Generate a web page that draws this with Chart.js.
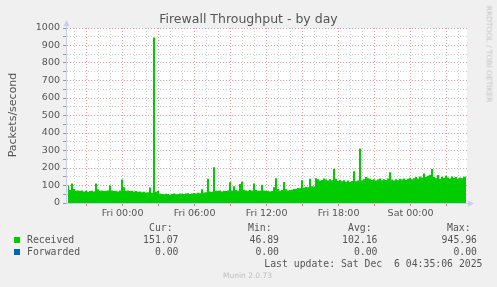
<!DOCTYPE html>
<html>
<head>
<meta charset="utf-8">
<script src="https://cdn.jsdelivr.net/npm/chart.js@4.4.1/dist/chart.umd.min.js"></script>
<style>
  body { margin: 0; background: #f0f0f0; }
  #wrap { position: relative; width: 497px; height: 287px; overflow: hidden; }
  canvas { position: absolute; left: 0; top: 0; }
  .t { position: absolute; white-space: pre; color: #555; }
  .mono { font-family: 'DejaVu Sans Mono', monospace; font-size: 9.8px; line-height: 12px; }
  .box { position: absolute; width: 6px; height: 6px; }
</style>
</head>
<body>
<div id="wrap">
  <canvas id="chart" width="497" height="287"></canvas>
  <div class="t" style="left:0;width:497px;top:11px;text-align:center;font:12.5px 'DejaVu Sans';line-height:15px;">Firewall Throughput - by day</div>
  <div class="t" style="left:11.5px;top:114.5px;font:11px 'DejaVu Sans';line-height:13px;transform:translate(-50%,-50%) rotate(-90deg);">Packets/second</div>
  <div class="t" style="left:488.5px;top:53.5px;font:7.5px 'DejaVu Sans';line-height:9px;color:#c4c4c4;transform:translate(-50%,-50%) rotate(90deg);">RRDTOOL / TOBI OETIKER</div>
  <div class="t" style="left:223px;top:271px;font:7.5px 'DejaVu Sans';line-height:10px;color:#bdbdbd;">Munin 2.0.73</div>
  <div class="box" style="left:14px;top:236.5px;background:#00cc00;"></div>
  <div class="box" style="left:14px;top:248.5px;background:#0066b3;"></div>
</div>
<script>
// time axis in hours from Fri 00:00, one sample every 10 minutes
const startHour = -4.55;
const stepHours = 1 / 6;
const gridHours = [-4,-3,-2,-1,0,1,2,3,4,5,6,7,8,9,10,11,12,13,14,15,16,17,18,19,20,21,22,23,24,25,26,27,28];
const xTickHours = [0, 6, 12, 18, 24];
const xTickLabels = ['Fri 00:00', 'Fri 06:00', 'Fri 12:00', 'Fri 18:00', 'Sat 00:00'];

const received = [
  100, 75, 112, 80, 70, 72, 68, 72, 66, 70, 64, 68, 70, 66, 112, 78, 70, 72, 68, 70,
  72, 100, 72, 68, 70, 66, 72, 135, 90, 70, 72, 68, 70, 66, 68, 64, 66, 62, 64, 60,
  62, 88, 58, 946, 64, 68, 55, 52, 50, 53, 51, 47, 52, 54, 50, 52, 55, 53, 51, 54,
  56, 52, 55, 57, 54, 58, 56, 78, 60, 62, 138, 66, 64, 205, 70, 68, 72, 66, 70, 68,
  72, 118, 72, 96, 74, 70, 108, 122, 76, 72, 70, 74, 72, 112, 74, 70, 72, 104, 72, 68,
  70, 66, 68, 90, 142, 80, 70, 74, 120, 78, 72, 74, 76, 80, 82, 86, 84, 130, 88, 92,
  90, 138, 96, 94, 142, 136, 128, 132, 140, 134, 128, 136, 130, 196, 138, 126, 132, 124, 130, 122,
  128, 120, 126, 182, 124, 128, 312, 130, 136, 148, 142, 138, 132, 136, 128, 134, 140, 130, 136, 132,
  140, 176, 134, 128, 136, 130, 138, 134, 140, 132, 138, 144, 136, 142, 148, 140, 152, 146, 168, 150,
  156, 162, 194, 148, 142, 160, 138, 150, 144, 156, 146, 140, 152, 144, 148, 138, 146, 142, 150, 151
];
const forwarded = [
  0,0,0,0,0,0,0,0,0,0,0,0,0,0,0,0,0,0,0,0, 0,0,0,0,0,0,0,0,0,0,0,0,0,0,0,0,0,0,0,0,
  0,0,0,0,0,0,0,0,0,0,0,0,0,0,0,0,0,0,0,0, 0,0,0,0,0,0,0,0,0,0,0,0,0,0,0,0,0,0,0,0,
  0,0,0,0,0,0,0,0,0,0,0,0,0,0,0,0,0,0,0,0, 0,0,0,0,0,0,0,0,0,0,0,0,0,0,0,0,0,0,0,0,
  0,0,0,0,0,0,0,0,0,0,0,0,0,0,0,0,0,0,0,0, 0,0,0,0,0,0,0,0,0,0,0,0,0,0,0,0,0,0,0,0,
  0,0,0,0,0,0,0,0,0,0,0,0,0,0,0,0,0,0,0,0, 0,0,0,0,0,0,0,0,0,0,0,0,0,0,0,0,0,0,0,0
];

const legendHead = ['Cur:', 'Min:', 'Avg:', 'Max:'];
const receivedStats = ['151.07', '46.89', '102.16', '945.96'];
const forwardedStats = ['0.00', '0.00', '0.00', '0.00'];
const lastUpdate = 'Last update: Sat Dec  6 04:35:06 2025';

const wrap = document.getElementById('wrap');
function put(text, x, y, align) {
  const d = document.createElement('div');
  d.className = 't mono';
  d.textContent = text;
  d.style.top = (y - 6) + 'px';
  if (align === 'right') d.style.right = (497 - x) + 'px';
  else d.style.left = x + 'px';
  wrap.appendChild(d);
}
const headX = [149, 248, 348, 447];
const valX = [178.5, 279, 377.5, 477];
legendHead.forEach((h, i) => put(h, headX[i], 227.5));
put('Received', 27, 239.5);
put('Forwarded', 27, 251.5);
receivedStats.forEach((v, i) => put(v, valX[i], 239.5, 'right'));
forwardedStats.forEach((v, i) => put(v, valX[i], 251.5, 'right'));
put(lastUpdate, 482.5, 263.5, 'right');

const toPoints = arr => arr.map((v, i) => ({ x: startHour + i * stepHours, y: v }));

const frame = {
  id: 'frame',
  beforeDraw(chart) {
    const { ctx, chartArea: a } = chart;
    ctx.save();
    ctx.fillStyle = '#ffffff';
    ctx.fillRect(a.left, a.top, a.right - a.left, a.bottom - a.top);
    ctx.restore();
  },
  afterDraw(chart) {
    const { ctx, chartArea: a } = chart;
    const x0 = a.left - 0.5, y0 = a.bottom + 0.5;
    ctx.save();
    ctx.strokeStyle = '#c8ccf4';
    ctx.fillStyle = '#c8ccf4';
    ctx.lineWidth = 1;
    ctx.beginPath();
    ctx.moveTo(x0, y0); ctx.lineTo(x0, a.top - 4);
    ctx.moveTo(x0, y0); ctx.lineTo(a.right + 4, y0);
    ctx.stroke();
    ctx.beginPath();
    ctx.moveTo(x0, a.top - 8); ctx.lineTo(x0 - 3, a.top - 2); ctx.lineTo(x0 + 3, a.top - 2);
    ctx.closePath(); ctx.fill();
    ctx.beginPath();
    ctx.moveTo(a.right + 7, y0); ctx.lineTo(a.right + 1, y0 - 3); ctx.lineTo(a.right + 1, y0 + 3);
    ctx.closePath(); ctx.fill();
    ctx.restore();
  }
};

const tickFont = { family: 'DejaVu Sans', size: 9.5 };

new Chart(document.getElementById('chart'), {
  type: 'line',
  data: {
    datasets: [
      {
        label: 'Received',
        data: toPoints(received),
        backgroundColor: '#00cc00',
        borderWidth: 0,
        fill: 'origin',
        pointRadius: 0,
        stepped: 'middle'
      },
      {
        label: 'Forwarded',
        data: toPoints(forwarded),
        borderColor: 'rgba(0,102,179,0.25)',
        borderWidth: 1,
        fill: false,
        pointRadius: 0
      }
    ]
  },
  options: {
    responsive: false,
    animation: false,
    devicePixelRatio: 1,
    layout: { padding: { left: 0, top: 28, right: 30, bottom: 64 } },
    plugins: { legend: { display: false }, tooltip: { enabled: false } },
    scales: {
      x: {
        type: 'linear',
        min: -4.633,
        max: 28.7,
        afterBuildTicks: s => { s.ticks = gridHours.map(v => ({ value: v })); },
        afterFit: s => { s.height = 20; },
        ticks: {
          autoSkip: false,
          maxRotation: 0,
          padding: 2,
          color: '#555',
          font: tickFont,
          callback: v => {
            const k = xTickHours.indexOf(v);
            return k < 0 ? '' : xTickLabels[k];
          }
        },
        grid: {
          color: c => (c.tick && c.tick.value % 3 === 0) ? 'rgba(225,120,120,0.75)' : '#cfcfcf',
          tickColor: c => (c.tick && c.tick.value % 3 === 0) ? 'rgba(225,120,120,0.9)' : 'rgba(0,0,0,0)',
          tickLength: 3,
          lineWidth: 1
        },
        border: { display: false, dash: [1, 2] }
      },
      y: {
        min: 0,
        max: 1000,
        afterFit: s => { s.width = 67; },
        ticks: {
          stepSize: 50,
          autoSkip: false,
          padding: 3,
          color: '#555',
          font: tickFont,
          callback: v => v % 100 === 0 ? String(v) : ''
        },
        grid: {
          color: c => (c.tick && c.tick.value % 100 === 0) ? 'rgba(225,120,120,0.75)' : '#cfcfcf',
          tickColor: '#999',
          tickLength: 4,
          lineWidth: 1
        },
        border: { display: false, dash: [1, 2] }
      }
    }
  },
  plugins: [frame]
});
</script>
</body>
</html>
